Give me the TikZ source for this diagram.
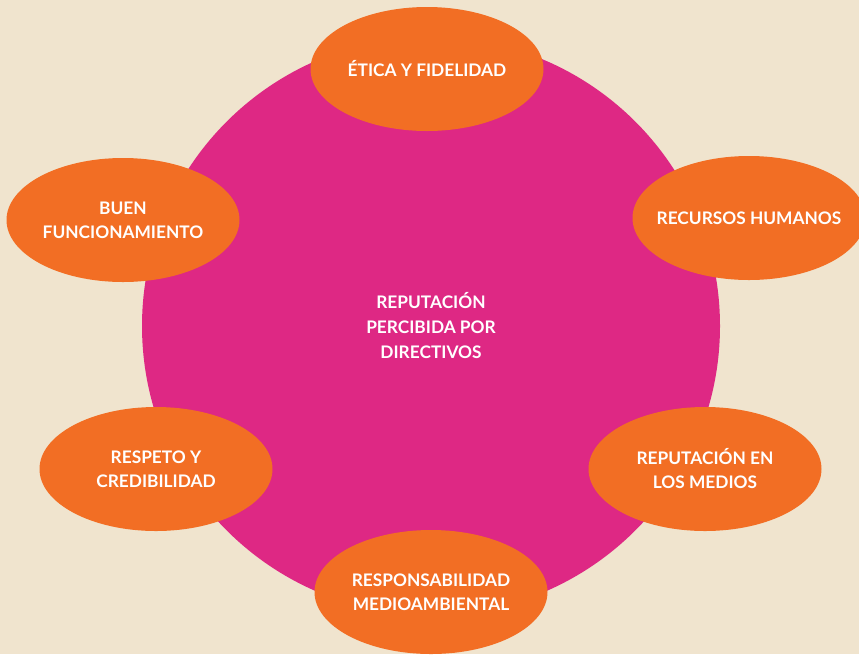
\documentclass[tikz,border=0pt]{standalone}
\usepackage{fontspec}
\setmainfont{Lato}
\usetikzlibrary{shapes.geometric}
\definecolor{fondo}{RGB}{240,228,206}
\definecolor{rosa}{RGB}{222,40,132}
\definecolor{naranja}{RGB}{242,110,36}

\begin{document}
\begin{tikzpicture}[x=1pt,y=-1pt,
  factor/.style={ellipse, fill=naranja, minimum width=233pt, minimum height=124pt,
    inner sep=0pt, text=white, align=center, font=\fontsize{17.3}{24}\selectfont\bfseries}]
\useasboundingbox (0,0) rectangle (859,654);
\clip (0,0) rectangle (859,654);
\fill[fondo] (0,0) rectangle (859,654);
\node[circle, fill=rosa, minimum size=578pt, inner sep=0pt, text=white, align=center,
  font=\fontsize{17.3}{25}\selectfont\bfseries] (rep) at (431,326) {REPUTACIÓN\\PERCIBIDA POR\\DIRECTIVOS};
\node[factor] (etica) at (427,69) {ÉTICA Y FIDELIDAD};
% long single line: keep the ellipse at its minimum size
\node[factor] (rrhh) at (749,218) {\makebox[0pt]{RECURSOS HUMANOS}};
\node[factor] (buen) at (123,220) {BUEN\\FUNCIONAMIENTO};
\node[factor] (respeto) at (156,469) {RESPETO Y\\CREDIBILIDAD};
\node[factor] (medios) at (705,469) {REPUTACIÓN EN\\LOS MEDIOS};
\node[factor] (ambiente) at (431,592) {RESPONSABILIDAD\\MEDIOAMBIENTAL};
\end{tikzpicture}
\end{document}
